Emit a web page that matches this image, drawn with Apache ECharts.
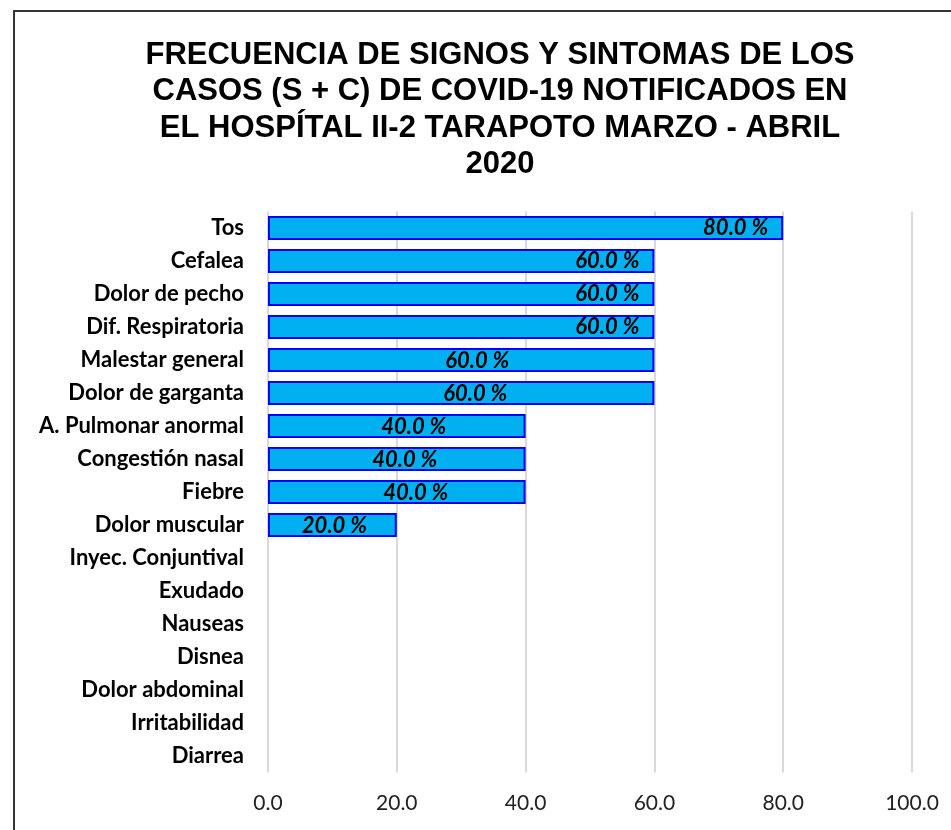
<!DOCTYPE html>
<html>
<head>
<meta charset="utf-8">
<script src="https://cdn.jsdelivr.net/npm/echarts@6/dist/echarts.min.js"></script>
<style>
  html, body { margin: 0; padding: 0; background: #fff; }
  #chart { width: 951px; height: 830px; }
</style>
</head>
<body>
<div id="chart"></div>
<script>
var chartTitle = "FRECUENCIA DE SIGNOS Y SINTOMAS DE LOS\nCASOS (S + C) DE COVID-19 NOTIFICADOS EN\nEL HOSPÍTAL II-2 TARAPOTO MARZO - ABRIL\n2020";

var sintomas = ["Tos", "Cefalea", "Dolor de pecho", "Dif. Respiratoria", "Malestar general",
  "Dolor de garganta", "A. Pulmonar anormal", "Congestión nasal", "Fiebre", "Dolor muscular",
  "Inyec. Conjuntival", "Exudado", "Nauseas", "Disnea", "Dolor abdominal", "Irritabilidad", "Diarrea"];

var porcentajes = [80, 60, 60, 60, 60, 60, 40, 40, 40, 20, 0, 0, 0, 0, 0, 0, 0];

var xTicks = [0, 20, 40, 60, 80, 100];

// where Excel put each data label (hand-placed in the original)
var labelPos = ["end", "end", "end", "end", 16, 14, 17, 8, 19, 2, 0, 0, 0, 0, 0, 0, 0];

var chart = echarts.init(document.getElementById("chart"));

var barData = porcentajes.map(function(v, i) {
  var p = labelPos[i];
  var item = { value: v };
  if (v === 0) {
    item.itemStyle = { borderWidth: 0 };
    item.label = { show: false };
  } else if (p === "end") {
    item.label = { position: "insideRight", distance: 15 };
  } else {
    item.label = { position: "inside", offset: [p, 1] };
  }
  return item;
});

var option = {
  animation: false,
  backgroundColor: "#fff",
  graphic: [
    {
      type: "rect",
      shape: { x: 14, y: 11, width: 960, height: 900 },
      style: { fill: "none", stroke: "#333", lineWidth: 2 }
    }
  ],
  title: {
    text: chartTitle,
    left: 495,
    top: 32,
    textAlign: "center",
    textStyle: {
      fontFamily: "Liberation Sans",
      fontWeight: "bold",
      fontSize: 31,
      lineHeight: 36.5,
      color: "#000"
    }
  },
  grid: {
    left: 268,
    right: 39,
    top: 211.5,
    bottom: 57.5,
    containLabel: false
  },
  xAxis: {
    type: "value",
    min: xTicks[0],
    max: xTicks[xTicks.length - 1],
    interval: 20,
    axisLine: { show: false },
    axisTick: { show: false },
    splitLine: { lineStyle: { color: "#d9d9d9", width: 2 } },
    axisLabel: {
      margin: 20,
      fontFamily: "Lato",
      fontSize: 21,
      color: "#222",
      formatter: function(v) { return v.toFixed(1); }
    }
  },
  yAxis: {
    type: "category",
    inverse: true,
    data: sintomas,
    axisLine: { show: false },
    axisTick: { show: false },
    axisLabel: {
      margin: 24,
      fontFamily: "Lato",
      fontWeight: "bold",
      fontSize: 22,
      color: "#000"
    }
  },
  series: [
    {
      type: "bar",
      data: barData,
      barCategoryGap: "27%",
      itemStyle: {
        color: "#00b0f0",
        borderColor: "#0000ff",
        borderWidth: 2
      },
      label: {
        show: true,
        fontFamily: "Lato",
        fontWeight: "bold",
        fontStyle: "italic",
        fontSize: 22,
        color: "#000",
        formatter: function(p) { return p.value.toFixed(1) + " %"; }
      }
    }
  ]
};

chart.setOption(option);
</script>
</body>
</html>
